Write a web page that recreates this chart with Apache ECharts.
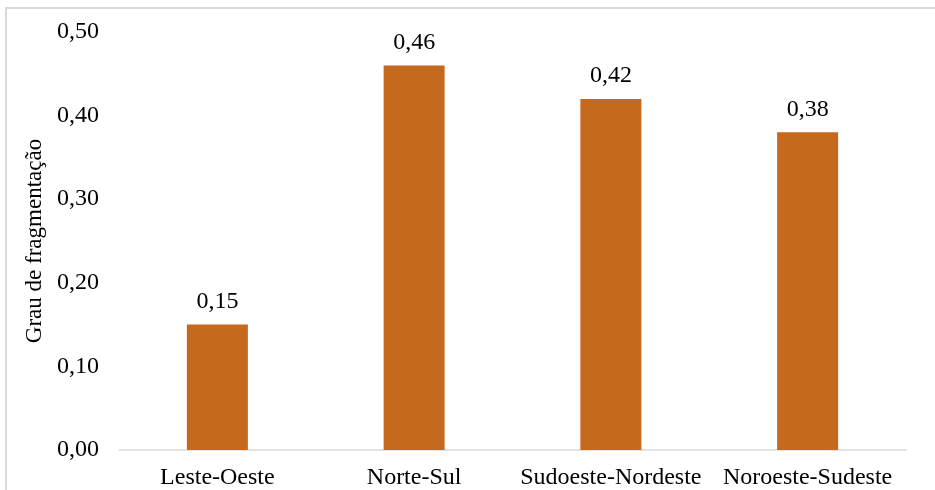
<!DOCTYPE html>
<html>
<head>
<meta charset="utf-8">
<script src="https://cdn.jsdelivr.net/npm/echarts@6/dist/echarts.min.js"></script>
<style>
  html, body { margin: 0; padding: 0; background: #fff; }
  #chart { width: 935px; height: 490px; }
</style>
</head>
<body>
<div id="chart"></div>
<script>
// Fragmentation degree by direction
const categories = ['Leste-Oeste', 'Norte-Sul', 'Sudoeste-Nordeste', 'Noroeste-Sudeste'];
const values = [0.15, 0.46, 0.42, 0.38];
const yTicks = { min: 0, max: 0.5, interval: 0.1 };
const yAxisTitle = 'Grau de fragmentação';

const fontFamily = '"Liberation Serif", "Times New Roman", serif';
const fmt = v => v.toFixed(2).replace('.', ',');

const chart = echarts.init(document.getElementById('chart'));
chart.setOption({
  backgroundColor: '#fff',
  animation: false,
  graphic: [{
    type: 'rect',
    shape: { x: 6, y: 8, width: 940, height: 500 },
    style: { fill: 'none', stroke: '#D9D9D9', lineWidth: 2 },
    silent: true
  }],
  grid: { left: 119, right: 29, top: 32, bottom: 39 },
  xAxis: {
    type: 'category',
    data: categories,
    axisLine: { lineStyle: { color: '#D9D9D9', width: 1.5 } },
    axisTick: { show: false },
    axisLabel: { color: '#000', fontFamily, fontSize: 24, margin: 16, interval: 0 }
  },
  yAxis: {
    type: 'value',
    min: yTicks.min,
    max: yTicks.max,
    interval: yTicks.interval,
    name: yAxisTitle,
    nameLocation: 'middle',
    nameGap: 69,
    nameTextStyle: { color: '#000', fontFamily, fontSize: 23 },
    axisLine: { show: false },
    axisTick: { show: false },
    splitLine: { show: false },
    axisLabel: { color: '#000', fontFamily, fontSize: 24, margin: 20, formatter: fmt }
  },
  series: [{
    type: 'bar',
    data: values,
    barWidth: 61,
    itemStyle: { color: '#C5691F' },
    label: {
      show: true,
      position: 'top',
      distance: 11,
      color: '#000',
      fontFamily,
      fontSize: 24,
      formatter: p => fmt(p.value)
    }
  }]
});
</script>
</body>
</html>
